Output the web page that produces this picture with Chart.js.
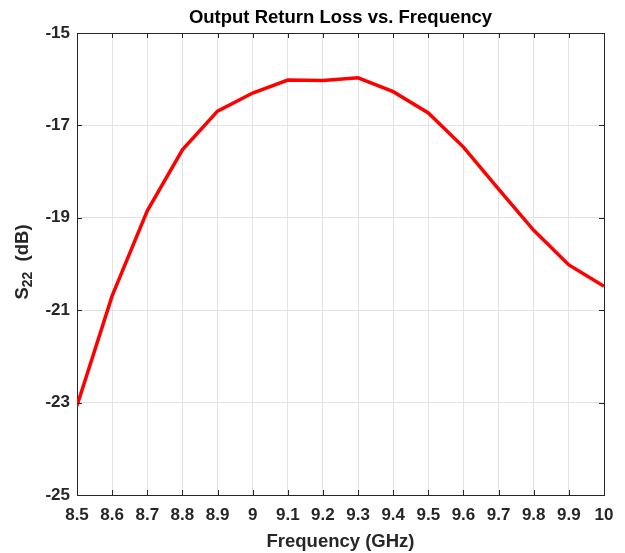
<!DOCTYPE html>
<html>
<head>
<meta charset="utf-8">
<script src="https://cdn.jsdelivr.net/npm/chart.js@4/dist/chart.umd.min.js"></script>
<style>
  body { margin: 0; background: #fff; }
  #wrap { width: 625px; height: 553px; }
</style>
</head>
<body>
<div id="wrap"><canvas id="s22Chart" width="625" height="553"></canvas></div>
<script>
// frequency points (GHz) and measured S22 (dB)
const freqGHz = [8.5, 8.6, 8.7, 8.8, 8.9, 9.0, 9.1, 9.2, 9.3, 9.4, 9.5, 9.6, 9.7, 9.8, 9.9, 10.0];
const s22dB = [-23.07, -20.69, -18.85, -17.53, -16.69, -16.30, -16.02, -16.03, -15.97, -16.27, -16.73, -17.47, -18.38, -19.27, -20.02, -20.48];

const xTitle = 'Frequency (GHz)';
// y label drawn as S + subscript 22 + (dB)
const yTitleParts = ['S', '22', '  (dB)'];
const chartTitle = 'Output Return Loss vs. Frequency';

const axisColor = '#262626';
const gridColor = '#e3e3e3';
const font = 'Liberation Sans, Arial, Helvetica, sans-serif';

// MATLAB style inward tick marks on all four sides, plus the y label with a real subscript
const matlabBits = {
  id: 'matlabBits',
  afterDatasetsDraw(chart) {
    const { ctx, chartArea: a, scales } = chart;
    ctx.save();
    ctx.strokeStyle = axisColor;
    ctx.lineWidth = 1;
    ctx.beginPath();
    scales.x.ticks.forEach(t => {
      const px = Math.round(scales.x.getPixelForValue(t.value)) + 0.5;
      ctx.moveTo(px, a.bottom); ctx.lineTo(px, a.bottom - 5);
      ctx.moveTo(px, a.top); ctx.lineTo(px, a.top + 5);
    });
    scales.y.ticks.forEach(t => {
      const py = Math.round(scales.y.getPixelForValue(t.value)) + 0.5;
      ctx.moveTo(a.left, py); ctx.lineTo(a.left + 5, py);
      ctx.moveTo(a.right, py); ctx.lineTo(a.right - 5, py);
    });
    ctx.stroke();

    const big = 'bold 18.5px ' + font;
    const small = 'bold 14px ' + font;
    ctx.font = big;
    const w0 = ctx.measureText(yTitleParts[0]).width;
    const w2 = ctx.measureText(yTitleParts[2]).width;
    ctx.font = small;
    const w1 = ctx.measureText(yTitleParts[1]).width;
    const total = w0 + w1 + w2;
    ctx.translate(23, (a.top + a.bottom) / 2 - 2);
    ctx.rotate(-Math.PI / 2);
    ctx.fillStyle = axisColor;
    ctx.textBaseline = 'middle';
    ctx.textAlign = 'left';
    let x = -total / 2;
    ctx.font = big;
    ctx.fillText(yTitleParts[0], x, 0);
    x += w0;
    ctx.font = small;
    ctx.fillText(yTitleParts[1], x, 5);
    x += w1;
    ctx.font = big;
    ctx.fillText(yTitleParts[2], x, 0);
    ctx.restore();
  }
};

const ctx = document.getElementById('s22Chart').getContext('2d');
const chart = new Chart(ctx, {
  type: 'line',
  data: {
    datasets: [{
      label: 'S22',
      data: freqGHz.map((f, i) => ({ x: f, y: s22dB[i] })),
      borderColor: 'rgb(255, 0, 0)',
      borderWidth: 3.5,
      pointRadius: 0,
      tension: 0,
      fill: false
    }]
  },
  options: {
    responsive: false,
    animation: false,
    layout: { padding: 0 },
    plugins: {
      legend: { display: false },
      tooltip: { enabled: false }
    },
    scales: {
      x: {
        type: 'linear',
        position: 'bottom',
        min: 8.5,
        max: 10,
        afterFit: s => { s.height = 58; },
        ticks: {
          stepSize: 0.1,
          autoSkip: false,
          maxRotation: 0,
          padding: 10,
          color: axisColor,
          font: { family: font, size: 17, weight: 'bold' },
          callback: v => String(Number(v.toFixed(1)))
        },
        grid: { color: gridColor, drawTicks: false },
        border: { color: axisColor, width: 1 },
        title: {
          display: true,
          text: xTitle,
          color: axisColor,
          padding: { top: 0, bottom: 0 },
          font: { family: font, size: 18.5, weight: 'bold' }
        }
      },
      xTop: {
        type: 'linear',
        position: 'top',
        afterFit: s => { s.height = 33; },
        ticks: { display: false },
        grid: { display: false },
        border: { color: axisColor, width: 1 },
        title: {
          display: true,
          text: chartTitle,
          color: '#000',
          padding: { top: 7, bottom: 4 },
          font: { family: font, size: 18.5, weight: 'bold' }
        }
      },
      y: {
        type: 'linear',
        position: 'left',
        min: -25,
        max: -15,
        afterFit: s => { s.width = 77; },
        ticks: {
          stepSize: 2,
          padding: 7,
          color: axisColor,
          font: { family: font, size: 17, weight: 'bold' }
        },
        grid: { color: gridColor, drawTicks: false },
        border: { color: axisColor, width: 1 },
        title: { display: false }
      },
      yRight: {
        type: 'linear',
        position: 'right',
        afterFit: s => { s.width = 21; },
        ticks: { display: false },
        grid: { display: false },
        border: { color: axisColor, width: 1 }
      }
    }
  },
  plugins: [matlabBits]
});
</script>
</body>
</html>
